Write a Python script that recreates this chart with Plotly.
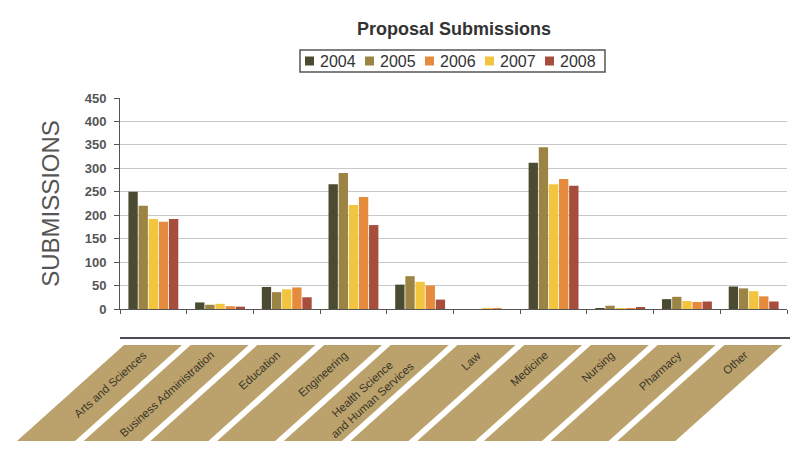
import plotly.graph_objects as go

# Colleges / units receiving proposal submissions
categories = [
    "Arts and Sciences", "Business Administration", "Education", "Engineering",
    "Health Science and Human Services", "Law", "Medicine", "Nursing",
    "Pharmacy", "Other",
]
# Text shown inside the slanted label panels
category_labels = [
    "Arts and Sciences", "Business Administration", "Education", "Engineering",
    "Health Science<br>and Human Services", "Law", "Medicine", "Nursing",
    "Pharmacy", "Other",
]

years = ["2004", "2005", "2006", "2007", "2008"]
sub_2004 = [250, 14, 47, 266, 52, 0, 312, 2, 21, 48]
sub_2005 = [220, 9, 36, 290, 70, 0, 345, 7, 26, 44]
sub_2006 = [186, 6, 46, 239, 50, 1, 277, 2, 15, 27]
sub_2007 = [192, 11, 42, 222, 58, 2, 266, 1, 17, 38]
sub_2008 = [192, 5, 25, 179, 20, 0, 263, 4, 16, 16]

year_values = {"2004": sub_2004, "2005": sub_2005, "2006": sub_2006,
               "2007": sub_2007, "2008": sub_2008}
year_colors = {"2004": "#4a4b30", "2005": "#9c8444", "2006": "#e68a3e",
               "2007": "#f3c53f", "2008": "#a64d3c"}
# left-to-right order of the bars inside each group
bar_order = ["2004", "2005", "2007", "2006", "2008"]

FONT = "Liberation Sans, Arial, sans-serif"
W, H = 796, 460
M_L, M_R, M_T, M_B = 120, 9, 98, 151
PLOT_W = W - M_L - M_R
PLOT_H = H - M_T - M_B


def px_x(px):
    """Page pixel column -> paper x fraction."""
    return (px - M_L) / PLOT_W


def px_y(py):
    """Page pixel row -> paper y fraction."""
    return (H - M_B - py) / PLOT_H


fig = go.Figure()
for yr in bar_order:
    fig.add_trace(go.Bar(
        x=categories,
        y=year_values[yr],
        name=yr,
        legendrank=years.index(yr) + 1,
        marker=dict(color=year_colors[yr], line=dict(width=0)),
    ))

# rule above the label panels
shapes = [dict(type="line", xref="paper", yref="paper",
               x0=0, x1=px_x(790), y0=px_y(338), y1=px_y(338),
               line=dict(color="#4b4b5a", width=2))]

# slanted tan panels under each category, expressed in x-domain fractions
n = len(categories)
top_y, bot_y = px_y(345), px_y(441)
slant = 107 / PLOT_W
for i in range(n):
    left = i / n + 0.006
    right = i / n + 0.093
    path = (f"M {left},{top_y} L {right},{top_y} "
            f"L {right - slant},{bot_y} L {left - slant},{bot_y} Z")
    shapes.append(dict(type="path", xref="x domain", yref="paper", path=path,
                       fillcolor="#bba26c", line=dict(width=0), layer="below"))

annotations = []
for cat, lab in zip(categories, category_labels):
    annotations.append(dict(
        x=cat, xref="x", y=px_y(346), yref="paper", text=lab,
        showarrow=False, xanchor="right", yanchor="top", xshift=-1,
        textangle=-42, align="center",
        font=dict(family=FONT, size=11.5, color="#3b3729"),
    ))

# boxed legend row above the plot
leg_x0, leg_x1, leg_y0, leg_y1 = 300, 605, 50, 72
shapes.append(dict(type="rect", xref="paper", yref="paper",
                   x0=px_x(leg_x0), x1=px_x(leg_x1),
                   y0=px_y(leg_y1), y1=px_y(leg_y0),
                   line=dict(color="#555555", width=1.5), fillcolor="white"))
leg_mid = (leg_y0 + leg_y1) / 2
for i, yr in enumerate(years):
    sx = leg_x0 + 5 + 60 * i
    shapes.append(dict(type="rect", xref="paper", yref="paper",
                       x0=px_x(sx), x1=px_x(sx + 9),
                       y0=px_y(leg_mid + 4.5), y1=px_y(leg_mid - 4.5),
                       line=dict(width=0), fillcolor=year_colors[yr]))
    annotations.append(dict(
        x=px_x(sx + 13), xref="paper", y=px_y(leg_mid), yref="paper",
        text=yr, showarrow=False, xanchor="left", yanchor="middle",
        font=dict(family=FONT, size=16, color="#333333"),
    ))

fig.update_layout(
    width=W, height=H,
    margin=dict(l=M_L, r=M_R, t=M_T, b=M_B, pad=0),
    paper_bgcolor="white", plot_bgcolor="white",
    barmode="group", bargap=0.24, bargroupgap=0.08,
    showlegend=False,
    title=dict(text="<b>Proposal Submissions</b>", xref="container",
               x=454 / W, xanchor="center", yref="container",
               y=1 - 28.5 / H, yanchor="middle",
               font=dict(family=FONT, size=18, color="#333333")),
    xaxis=dict(type="category", range=[-0.5, n - 0.5], showticklabels=False,
               showline=True, linecolor="#555555", linewidth=1,
               ticks="outside", tickson="boundaries", ticklen=4,
               tickcolor="#555555", showgrid=False),
    yaxis=dict(range=[0, 450], dtick=50, showgrid=True, gridcolor="#c8c8c8",
               gridwidth=1, zeroline=False, showline=True, linecolor="#555555",
               linewidth=1, ticks="outside", ticklen=5, tickcolor="#555555",
               ticklabelstandoff=5,
               tickfont=dict(family=FONT, size=13, color="#555555",
                             weight="bold"),
               title=dict(text="SUBMISSIONS", standoff=18,
                          font=dict(family=FONT, size=24, color="#555555"))),
    shapes=shapes,
    annotations=annotations,
)

fig.write_html("out.html")
